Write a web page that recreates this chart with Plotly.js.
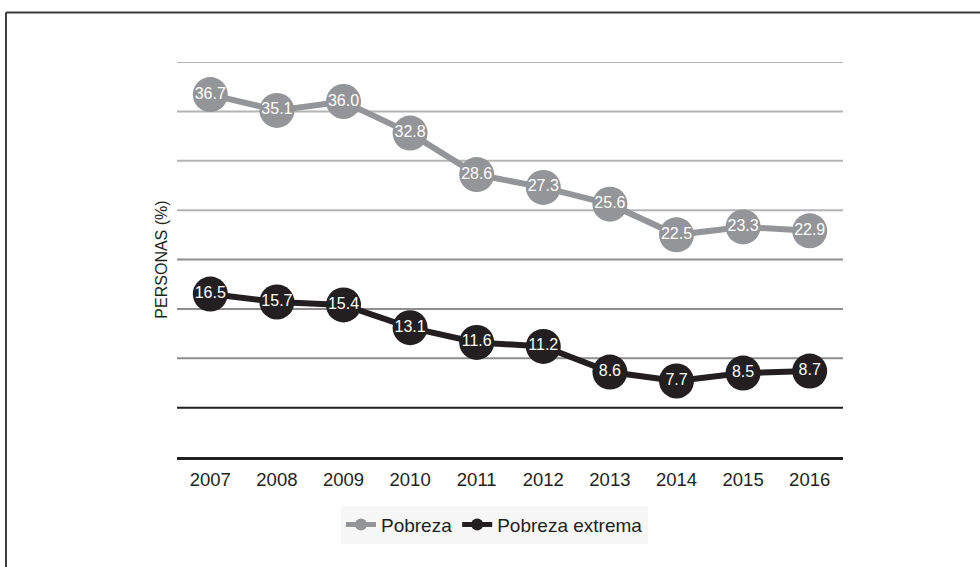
<!DOCTYPE html>
<html>
<head>
<meta charset="utf-8">
<script src="https://cdn.plot.ly/plotly-3.0.1.min.js"></script>
<style>
html,body{margin:0;padding:0;background:#fff;}
#chart{width:980px;height:567px;}
</style>
</head>
<body>
<div id="chart"></div>
<script>
const years = ["2007","2008","2009","2010","2011","2012","2013","2014","2015","2016"];
const pobreza = [36.7, 35.1, 36.0, 32.8, 28.6, 27.3, 25.6, 22.5, 23.3, 22.9];
const pobrezaExtrema = [16.5, 15.7, 15.4, 13.1, 11.6, 11.2, 8.6, 7.7, 8.5, 8.7];
const seriesNames = ["Pobreza", "Pobreza extrema"];
const yTitle = "PERSONAS (%)";
const gridLight = [25, 30, 35, 40];
const gridMid = [10, 15, 20];
const gridDark = [5];

const FONT = "Liberation Sans, Arial, Helvetica, sans-serif";
const GRAY = "#939598";
const DARK = "#231f20";

function series(name, vals, color) {
  return {
    type: "scatter",
    mode: "lines+markers+text",
    x: years,
    y: vals,
    name: name,
    line: {color: color, width: 6},
    marker: {color: color, size: 35},
    text: vals.map(v => v.toFixed(1)),
    textposition: "middle center",
    textfont: {color: "#ffffff", size: 16, family: FONT},
    cliponaxis: false,
    hoverinfo: "x+y"
  };
}

const data = [
  series(seriesNames[0], pobreza, GRAY),
  series(seriesNames[1], pobrezaExtrema, DARK)
];

function gridShapes(vals, color) {
  return vals.map(v => ({
    type: "line", xref: "paper", yref: "y", x0: 0, x1: 1, y0: v, y1: v,
    line: {color: color, width: 2}, layer: "below"
  }));
}

const layout = {
  width: 980, height: 567,
  margin: {l: 177, r: 137, t: 62, b: 110},
  paper_bgcolor: "#ffffff",
  plot_bgcolor: "rgba(0,0,0,0)",
  font: {family: FONT, color: DARK, size: 18},
  showlegend: true,
  legend: {
    orientation: "h", x: 0.4767, xanchor: "center", y: -0.171, yanchor: "middle",
    bgcolor: "#f7f7f7", font: {size: 19, color: DARK, family: FONT},
    itemsizing: "constant"
  },
  xaxis: {
    type: "category", range: [-0.5, 9.5],
    showline: true, linecolor: DARK, linewidth: 3,
    showgrid: false, zeroline: false, ticks: "", ticklabelstandoff: 4,
    tickfont: {size: 18.5, color: DARK, family: FONT}, fixedrange: true
  },
  yaxis: {
    range: [0, 40], showticklabels: false,
    showgrid: false, zeroline: false,
    showline: false, ticks: "", fixedrange: true,
    title: {text: yTitle, font: {size: 16, color: DARK, family: FONT}, standoff: 4}
  },
  shapes: [].concat(
    gridShapes(gridLight, "#b4b4b4"),
    gridShapes(gridMid, "#8e8e8e"),
    gridShapes(gridDark, DARK),
    [
      {type: "line", xref: "paper", yref: "paper", x0: -0.2568, x1: -0.2568, y0: 1.1253, y1: -0.3, line: {color: "#3a3a3a", width: 2}, layer: "below"},
      {type: "line", xref: "paper", yref: "paper", x0: -0.2568, x1: 1.3, y0: 1.1253, y1: 1.1253, line: {color: "#3a3a3a", width: 2}, layer: "below"}
    ]
  )
};

Plotly.newPlot("chart", data, layout, {displayModeBar: false, staticPlot: true});
</script>
</body>
</html>
